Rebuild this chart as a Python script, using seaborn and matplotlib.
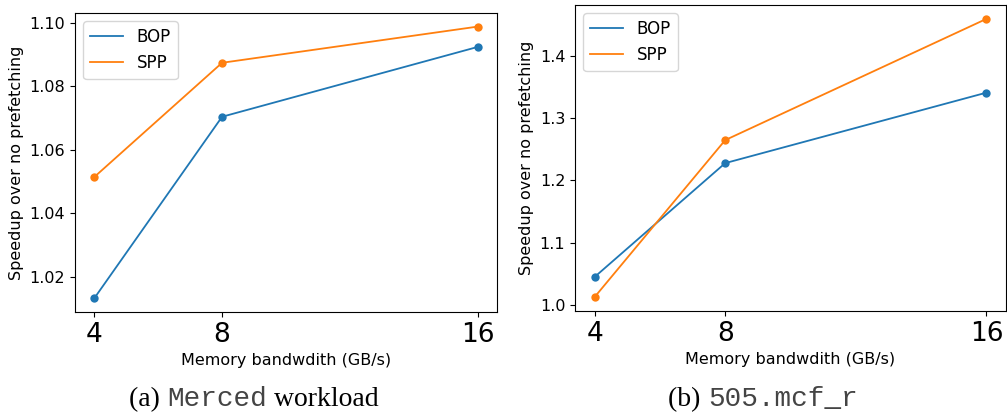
import matplotlib
matplotlib.use("Agg")
import matplotlib.pyplot as plt
import seaborn as sns
import pandas as pd

bandwidth = [4, 8, 16]
merced_bop = [1.0132, 1.0704, 1.0924]
merced_spp = [1.0514, 1.0874, 1.0988]
mcf_bop = [1.0446, 1.2277, 1.3410]
mcf_spp = [1.0123, 1.2647, 1.4596]
series_names = ["BOP", "SPP"]
xlabel = "Memory bandwdith (GB/s)"
ylabel = "Speedup over no prefetching"
colors = ["#1f77b4", "#ff7f0e"]


def make_df(bop, spp):
    rows = []
    for name, vals in zip(series_names, [bop, spp]):
        for x, y in zip(bandwidth, vals):
            rows.append({"bw": x, "speedup": y, "prefetcher": name})
    return pd.DataFrame(rows)


fig = plt.figure(figsize=(10.07, 4.15), dpi=100)
ax1 = fig.add_axes([0.0745, 0.2482, 0.4190, 0.7205])
ax2 = fig.add_axes([0.5710, 0.2506, 0.4280, 0.7374])

for ax, (bop, spp) in zip([ax1, ax2], [(merced_bop, merced_spp), (mcf_bop, mcf_spp)]):
    df = make_df(bop, spp)
    sns.lineplot(data=df, x="bw", y="speedup", hue="prefetcher", palette=colors,
                 marker="o", markersize=6, markeredgewidth=0, linewidth=1.3, ax=ax)
    ax.set_xticks(bandwidth)
    ax.set_xticklabels([str(b) for b in bandwidth], fontsize=19)
    ax.tick_params(axis="y", labelsize=11.5)
    ax.set_xlabel(xlabel, fontsize=11.5)
    ax.set_ylabel(ylabel, fontsize=11.5)
    leg = ax.legend(loc="upper left", fontsize=12, title=None)
    for h in leg.legend_handles:
        h.set_marker("")

ax1.set_yticks([1.02, 1.04, 1.06, 1.08, 1.10])
ax1.set_yticklabels(["1.02", "1.04", "1.06", "1.08", "1.10"])
ax2.set_yticks([1.0, 1.1, 1.2, 1.3, 1.4])

fig.canvas.draw()
renderer = fig.canvas.get_renderer()


def caption(parts, cx, y):
    texts = []
    for s, fam, col in parts:
        t = fig.text(0, y, s, family=fam, fontsize=20, color=col, ha="left", va="baseline")
        texts.append(t)
    widths = [t.get_window_extent(renderer).width for t in texts]
    total = sum(widths)
    x = cx * fig.bbox.width - total / 2
    for t, w in zip(texts, widths):
        t.set_x(x / fig.bbox.width)
        x += w


base = 1 - 406 / 415
caption([("(a) ", "Liberation Serif", "black"), ("Merced", "Liberation Mono", "#444444"),
         (" workload", "Liberation Serif", "black")], 254 / 1007, base)
caption([("(b) ", "Liberation Serif", "black"), ("505.mcf_r", "Liberation Mono", "#444444")], 763 / 1007, base)

fig.savefig("out.png", dpi=100)
